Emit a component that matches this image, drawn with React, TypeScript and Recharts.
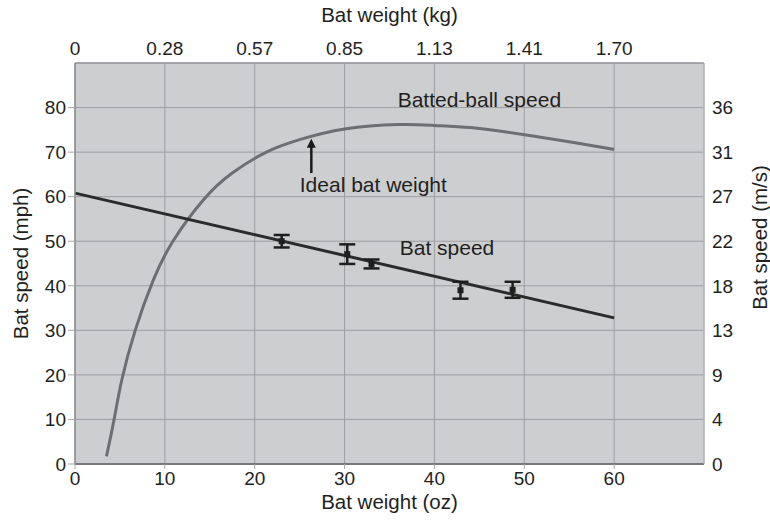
import React from 'react';
import {
  ComposedChart,
  Line,
  Scatter,
  ErrorBar,
  XAxis,
  YAxis,
  CartesianGrid,
  ReferenceDot,
  ReferenceLine,
  Label,
} from 'recharts';

// axis ticks
const OZ_TICKS = [0, 10, 20, 30, 40, 50, 60];
const KG_LABELS = ['0', '0.28', '0.57', '0.85', '1.13', '1.41', '1.70'];
const MPH_TICKS = [0, 10, 20, 30, 40, 50, 60, 70, 80];
const MS_LABELS = ['0', '4', '9', '13', '18', '22', '27', '31', '36'];

// bat speed fit (mph vs oz)
const batSpeedFit = [
  { x: 0, y: 60.8 },
  { x: 60, y: 32.8 },
];

// measured bat speeds with error bars
const measured = [
  { x: 23, y: 50, err: 1.4 },
  { x: 30.3, y: 47.1, err: 2.2 },
  { x: 33, y: 44.9, err: 1 },
  { x: 42.9, y: 39, err: 1.9 },
  { x: 48.7, y: 39.1, err: 1.8 },
];

// batted-ball speed curve
const battedBall = [
  { x: 3.5, y: 1.7 },
  { x: 4.35, y: 10 },
  { x: 5.2, y: 18.8 },
  { x: 6.7, y: 30 },
  { x: 8.7, y: 41.2 },
  { x: 10.9, y: 50 },
  { x: 14.3, y: 59.3 },
  { x: 17.5, y: 65.3 },
  { x: 21.3, y: 70 },
  { x: 25, y: 72.8 },
  { x: 30, y: 75.2 },
  { x: 36, y: 76.2 },
  { x: 40, y: 76 },
  { x: 44, y: 75.5 },
  { x: 48, y: 74.5 },
  { x: 52, y: 73.3 },
  { x: 56, y: 72 },
  { x: 60, y: 70.6 },
];

const idealArrow = [
  { x: 26.3, y: 65.3 },
  { x: 26.3, y: 73 },
];

const FONT = "'Liberation Sans', Arial, sans-serif";
const TEXT = '#231f20';
const tickStyle = { fill: TEXT, fontSize: 19, fontFamily: FONT };

const vLabel = (text: string, fromLeft: number, shift: number) => (props: any) => {
  const vb = props.viewBox || {};
  const x = vb.x + fromLeft;
  const y = vb.y + vb.height / 2 + shift;
  return (
    <text
      x={x}
      y={y}
      transform={`rotate(-90 ${x} ${y})`}
      textAnchor="middle"
      dominantBaseline="central"
      fill={TEXT}
      fontSize={20.5}
      fontFamily={FONT}
    >
      {text}
    </text>
  );
};

const Arrow = (p: any) => {
  const { x1, y1, x2, y2 } = p;
  const tipY = Math.min(y1, y2);
  const baseY = Math.max(y1, y2);
  const x = x1 ?? x2;
  return (
    <g>
      <line x1={x} y1={baseY} x2={x} y2={tipY + 6} stroke="#1a1a1a" strokeWidth={2.5} />
      <polygon points={`${x - 4.5},${tipY + 9} ${x + 4.5},${tipY + 9} ${x},${tipY}`} fill="#1a1a1a" />
    </g>
  );
};

const Square = (p: any) => (
  <rect x={p.cx - 3} y={p.cy - 3} width={6} height={6} fill="#1e1e1e" />
);

const annotation = { fill: TEXT, fontSize: 21, fontFamily: FONT, position: 'center' as const };

export default function App() {
  return (
    <div style={{ position: 'absolute', left: 0, top: 0, background: '#fff' }}>
      <ComposedChart width={770} height={531} margin={{ top: 0, right: 0, bottom: 0, left: 0 }}>
        <CartesianGrid
          xAxisId="oz"
          yAxisId="mph"
          fill="#cdced0"
          fillOpacity={1}
          stroke="#9d9ea2"
          strokeWidth={1}
        />
        <XAxis
          xAxisId="oz"
          dataKey="x"
          type="number"
          domain={[0, 70]}
          ticks={OZ_TICKS}
          height={67}
          tick={tickStyle}
          axisLine={{ stroke: '#77787b', strokeWidth: 2 }}
          tickLine={{ stroke: '#a6a7aa' }}
          tickSize={5}
          tickMargin={3}
          label={{ value: 'Bat weight (oz)', position: 'insideBottom', offset: 22, fill: TEXT, fontSize: 20.5, fontFamily: FONT }}
        />
        <XAxis
          xAxisId="kg"
          dataKey="x"
          type="number"
          orientation="top"
          domain={[0, 70]}
          ticks={OZ_TICKS}
          tickFormatter={(v: number) => KG_LABELS[OZ_TICKS.indexOf(v)] ?? ''}
          height={63}
          tick={tickStyle}
          axisLine={{ stroke: '#9a9b9e', strokeWidth: 1.5 }}
          tickLine={false}
          label={{ value: 'Bat weight (kg)', position: 'insideTop', offset: 7, fill: TEXT, fontSize: 20.5, fontFamily: FONT }}
        />
        <YAxis
          yAxisId="mph"
          type="number"
          domain={[0, 90]}
          ticks={MPH_TICKS}
          width={75}
          tick={tickStyle}
          axisLine={{ stroke: '#8e8f92', strokeWidth: 1.5 }}
          tickLine={{ stroke: '#a6a7aa' }}
          tickSize={7}
          tickMargin={2}
          label={<Label content={vLabel('Bat speed (mph)', 20, 0)} />}
        />
        <YAxis
          yAxisId="ms"
          orientation="right"
          type="number"
          domain={[0, 90]}
          ticks={MPH_TICKS}
          tickFormatter={(v: number) => MS_LABELS[MPH_TICKS.indexOf(v)] ?? ''}
          width={66}
          tick={{ ...tickStyle, textAnchor: 'start' }}
          axisLine={{ stroke: '#b9babd', strokeWidth: 1 }}
          tickLine={false}
          label={<Label content={vLabel('Bat speed (m/s)', 55, -26)} />}
        />

        <Line
          xAxisId="kg"
          yAxisId="ms"
          data={battedBall}
          dataKey="y"
          type="natural"
          stroke="#6d6e71"
          strokeWidth={3}
          dot={false}
          isAnimationActive={false}
        />
        <Line
          xAxisId="oz"
          yAxisId="mph"
          data={batSpeedFit}
          dataKey="y"
          type="linear"
          stroke="#2b2b2b"
          strokeWidth={3}
          dot={false}
          isAnimationActive={false}
        />
        <Scatter
          xAxisId="oz"
          yAxisId="mph"
          data={measured}
          dataKey="y"
          shape={Square}
          isAnimationActive={false}
        >
          <ErrorBar dataKey="err" direction="y" width={8} stroke="#1e1e1e" strokeWidth={2.5} isAnimationActive={false} />
        </Scatter>

        <ReferenceLine
          xAxisId="oz"
          yAxisId="mph"
          segment={idealArrow}
          shape={Arrow}
        />
        <ReferenceDot xAxisId="oz" yAxisId="mph" x={45} y={81.9} r={0} fill="none" stroke="none"
          label={{ value: 'Batted-ball speed', ...annotation }} />
        <ReferenceDot xAxisId="oz" yAxisId="mph" x={33.2} y={62.8} r={0} fill="none" stroke="none"
          label={{ value: 'Ideal bat weight', ...annotation }} />
        <ReferenceDot xAxisId="oz" yAxisId="mph" x={41.4} y={48.5} r={0} fill="none" stroke="none"
          label={{ value: 'Bat speed', ...annotation }} />
      </ComposedChart>
    </div>
  );
}
